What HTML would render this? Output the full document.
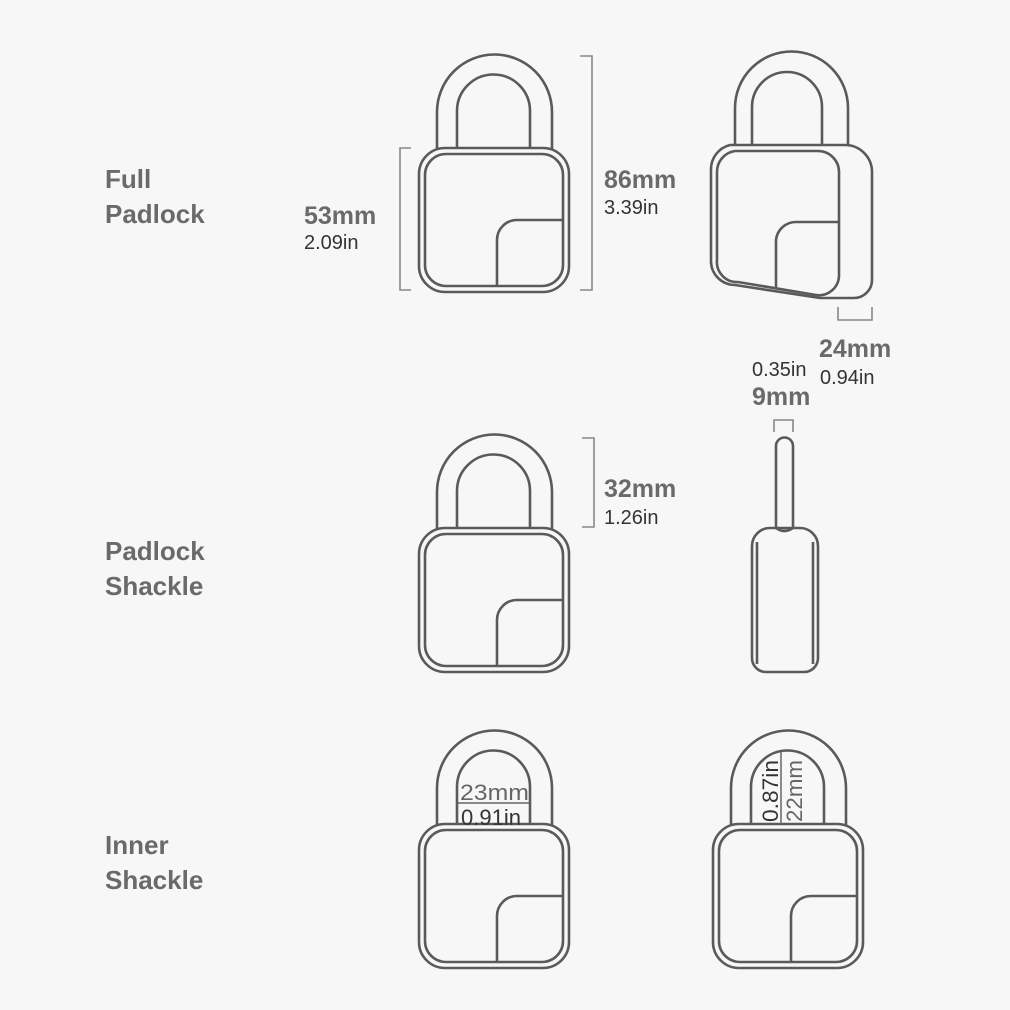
<!DOCTYPE html>
<html><head><style>
body{margin:0;background:#f7f7f7;}
svg{display:block}
.lbl{font-family:"Liberation Sans",sans-serif;font-weight:bold;fill:#6a6a6a;font-size:26px}
.mm{font-family:"Liberation Sans",sans-serif;font-weight:bold;fill:#6a6a6a;font-size:25px}
.in{font-family:"Liberation Sans",sans-serif;fill:#333;font-size:20px}
</style></head><body>
<svg width="1010" height="1010" viewBox="0 0 1010 1010" xmlns="http://www.w3.org/2000/svg">
<rect width="1010" height="1010" fill="#f7f7f7"/>
<defs>
<g id="lock" fill="none" stroke="#5a5a5a" stroke-width="2.6">
<path d="M437 150 V112 A57.5 57.5 0 0 1 552 112 V150"/>
<path d="M457 150 V111 A36.5 36.5 0 0 1 530 111 V150"/>
<rect x="419" y="148" width="150" height="144" rx="26" fill="#f7f7f7"/>
<rect x="425" y="154" width="138" height="132" rx="21"/>
<path d="M497 286 V240 A20 20 0 0 1 517 220 H563"/>
</g>
</defs>
<g class="lbl">
<text x="105" y="188">Full</text><text x="105" y="223">Padlock</text>
<text x="105" y="560">Padlock</text><text x="105" y="595">Shackle</text>
<text x="105" y="854">Inner</text><text x="105" y="889">Shackle</text>
</g>
<use href="#lock"/>
<use href="#lock" transform="translate(0,380)"/>
<use href="#lock" transform="translate(0,676)"/>
<use href="#lock" transform="translate(294,676)"/>
<g fill="none" stroke="#888" stroke-width="1.6">
<path d="M411 148 H400 V290 H411"/>
<path d="M580 56 H592 V290 H580"/>
<path d="M582 438 H594 V527 H582"/>
<path d="M838 307 V320 H872 V307"/>
<path d="M774 432 V420 H793 V432"/>
</g>
<text class="mm" x="304" y="224">53mm</text><text class="in" x="304" y="249">2.09in</text>
<text class="mm" x="604" y="188">86mm</text><text class="in" x="604" y="214">3.39in</text>
<text class="mm" x="604" y="497">32mm</text><text class="in" x="604" y="524">1.26in</text>
<text class="mm" x="819" y="357">24mm</text><text class="in" x="820" y="384">0.94in</text>
<text class="in" x="752" y="376">0.35in</text><text class="mm" x="752" y="405">9mm</text>
<g fill="none" stroke="#5a5a5a" stroke-width="2.6">
<path d="M735 147 V108 A56.5 56.5 0 0 1 848 108 V147"/>
<path d="M752 147 V107 A35 35 0 0 1 822 107 V147"/>
<path d="M730 145 H845 A27 27 0 0 1 872 172 V280 A18 18 0 0 1 854 298 H820 L735 285 A24 24 0 0 1 711 262 V170 A25 25 0 0 1 730 145 Z" fill="#f7f7f7"/>
<path d="M735 151 H818 A21 21 0 0 1 839 172 V276 A20 20 0 0 1 816 295 L738 282 A20 20 0 0 1 717 260 V172 A21 21 0 0 1 735 151 Z"/>
<path d="M776 288 V240 A20 20 0 0 1 796 222 H839"/>
</g>
<g fill="none" stroke="#5a5a5a" stroke-width="2.6">
<path d="M776 530 V446 A8.5 8.5 0 0 1 793 446 V530"/>
<path d="M772 528 H800 A18 18 0 0 1 818 546 V658 A14 14 0 0 1 804 672 H766 A14 14 0 0 1 752 658 V546 A18 18 0 0 1 770 528 Z" fill="#f7f7f7"/>
<path d="M776 528 Q784 534 793 528"/>
<path d="M757 542 V664"/><path d="M813 542 V664"/>
</g>
<line x1="458" y1="803" x2="529" y2="803" stroke="#666" stroke-width="1.5"/>
<text x="460" y="800" font-family="Liberation Sans,sans-serif" font-size="22" fill="#666" textLength="69" lengthAdjust="spacingAndGlyphs">23mm</text>
<text x="461" y="825" font-family="Liberation Sans,sans-serif" font-size="22" fill="#333" textLength="60" lengthAdjust="spacingAndGlyphs">0.91in</text>
<line x1="781" y1="752" x2="781" y2="824" stroke="#666" stroke-width="1.5"/>
<text transform="translate(778,822) rotate(-90)" font-family="Liberation Sans,sans-serif" font-size="22" fill="#333" textLength="62" lengthAdjust="spacingAndGlyphs">0.87in</text>
<text transform="translate(802,822) rotate(-90)" font-family="Liberation Sans,sans-serif" font-size="22" fill="#666" textLength="62" lengthAdjust="spacingAndGlyphs">22mm</text>
</svg>
</body></html>
